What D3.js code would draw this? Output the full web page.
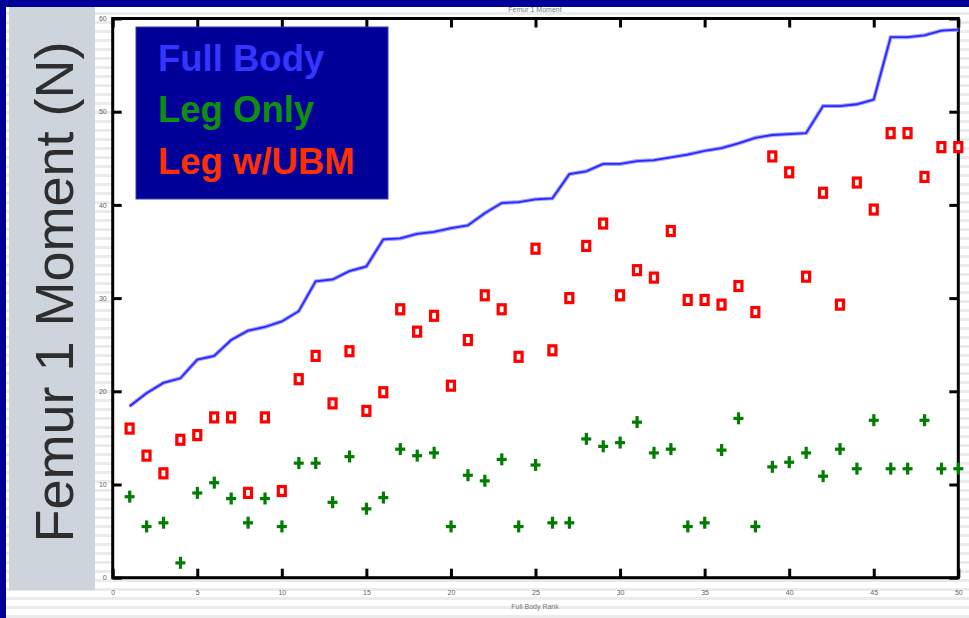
<!DOCTYPE html>
<html><head><meta charset="utf-8">
<script src="https://cdn.jsdelivr.net/npm/d3@7"></script>
<style>html,body{margin:0;padding:0;background:#fff;}svg{display:block;}</style>
</head><body>
<svg id="c" width="969" height="618"></svg>
<script>
const ranks = [1,2,3,4,5,6,7,8,9,10,11,12,13,14,15,16,17,18,19,20,21,22,23,24,25,26,27,28,29,30,31,32,33,34,35,36,37,38,39,40,41,42,43,44,45,46,47,48,49,50];
const fullBody = [18.4,19.8,20.9,21.4,23.4,23.8,25.5,26.5,26.9,27.5,28.6,31.8,32.0,32.9,33.4,36.3,36.4,36.9,37.1,37.5,37.8,39.1,40.2,40.3,40.6,40.7,43.3,43.6,44.4,44.4,44.7,44.8,45.1,45.4,45.8,46.1,46.6,47.2,47.5,47.6,47.7,50.6,50.6,50.8,51.3,58.0,58.0,58.2,58.7,58.8];
const legOnly = [8.7,5.5,5.9,1.6,9.1,10.2,8.5,5.9,8.5,5.5,12.3,12.3,8.1,13.0,7.4,8.6,13.8,13.1,13.4,5.5,11.0,10.4,12.7,5.5,12.1,5.9,5.9,14.9,14.1,14.5,16.7,13.4,13.8,5.5,5.9,13.7,17.1,5.5,11.9,12.4,13.4,10.9,13.8,11.7,16.9,11.7,11.7,16.9,11.7,11.7];
const legUBM = [16.0,13.1,11.2,14.8,15.3,17.2,17.2,9.1,17.2,9.3,21.3,23.8,18.7,24.3,17.9,19.9,28.8,26.4,28.1,20.6,25.5,30.3,28.8,23.7,35.3,24.4,30.0,35.6,38.0,30.3,33.0,32.2,37.2,29.8,29.8,29.3,31.3,28.5,45.2,43.5,32.3,41.3,29.3,42.4,39.5,47.7,47.7,43.0,46.2,46.2];
const xTicks = [0,5,10,15,20,25,30,35,40,45,50];
const yTicks = [0,10,20,30,40,50,60];
const seriesNames = ["Full Body","Leg Only","Leg w/UBM"];
const seriesColors = ["#3535ff","#0f8f0f","#ff3000"];
const yTitle = "Femur 1 Moment (N)";
const xTitle = "Full Body Rank";
const topTitle = "Femur 1 Moment";

const svg = d3.select("#c");
const W = 969, H = 618;

// faint scan stripes in the background
const stripes = svg.append("g");
stripes.selectAll("rect").data(d3.range(12, H, 9)).join("rect")
  .attr("x", 0).attr("y", d => d).attr("width", W).attr("height", 3).attr("fill", "#ebebeb");

// blue border
svg.append("rect").attr("x",0).attr("y",0).attr("width",W).attr("height",7).attr("fill","#000099");
svg.append("rect").attr("x",0).attr("y",0).attr("width",6).attr("height",H).attr("fill","#000099");

// grey side panel
svg.append("rect").attr("x",9).attr("y",7).attr("width",86).attr("height",583).attr("fill","#cdd4dc");
svg.append("text").attr("transform","translate(73,292) rotate(-90)")
  .attr("text-anchor","middle").attr("font-family","Liberation Sans, Arial, sans-serif")
  .attr("font-size",54).attr("fill","#2e2e2e").text(yTitle);

const x = d3.scaleLinear().domain([0,50]).range([112.7,958.3]);
const y = d3.scaleLinear().domain([0,60]).range([577.7,18.5]);

// plot area
svg.append("rect").attr("x",x(0)).attr("y",y(60)).attr("width",x(50)-x(0)).attr("height",y(0)-y(60)).attr("fill","#fff");

// axes with inward ticks
const fontTick = "Liberation Sans, Arial, sans-serif";
const axB = svg.append("g").attr("transform",`translate(0,${y(0)})`)
  .call(d3.axisBottom(x).tickValues(xTicks).tickSize(-9).tickPadding(12).tickFormat(d3.format("d")));
const axT = svg.append("g").attr("transform",`translate(0,${y(60)})`)
  .call(d3.axisTop(x).tickValues(xTicks).tickSize(-9).tickFormat(""));
const axL = svg.append("g").attr("transform",`translate(${x(0)},0)`)
  .call(d3.axisLeft(y).tickValues(yTicks).tickSize(-9).tickPadding(6).tickFormat(d3.format("d")));
const axR = svg.append("g").attr("transform",`translate(${x(50)},0)`)
  .call(d3.axisRight(y).tickValues(yTicks).tickSize(-9).tickFormat(""));
[axB,axT,axL,axR].forEach(a => {
  a.select(".domain").remove();
  a.selectAll(".tick line").attr("stroke","#000").attr("stroke-width",3);
  a.selectAll(".tick text").attr("font-family",fontTick).attr("font-size",7).attr("fill","#666");
});
svg.append("rect").attr("x",x(0)).attr("y",y(60)).attr("width",x(50)-x(0)).attr("height",y(0)-y(60))
  .attr("fill","none").attr("stroke","#000").attr("stroke-width",3);

// titles (tiny)
svg.append("text").attr("x",535).attr("y",12).attr("text-anchor","middle").attr("font-family",fontTick)
  .attr("font-size",7).attr("fill","#777").text(topTitle);
svg.append("text").attr("x",535).attr("y",609).attr("text-anchor","middle").attr("font-family",fontTick)
  .attr("font-size",7).attr("fill","#777").text(xTitle);

// full body line
const line = d3.line().x((d,i) => x(ranks[i])).y(d => y(d));
svg.append("path").datum(fullBody).attr("d",line).attr("fill","none")
  .attr("stroke","#a0a0ff").attr("stroke-width",4);
svg.append("path").datum(fullBody).attr("d",line).attr("fill","none")
  .attr("stroke","#2828ff").attr("stroke-width",1.8);

// Leg w/UBM squares
svg.append("g").selectAll("rect").data(legUBM).join("rect")
  .attr("x",(d,i) => x(ranks[i]) - 3.5).attr("y", d => y(d) - 4.5)
  .attr("width",7).attr("height",9).attr("fill","#fff")
  .attr("stroke","#ff0000").attr("stroke-width",3.2);

// Leg only pluses
const plus = svg.append("g").selectAll("g").data(legOnly).join("g")
  .attr("transform",(d,i) => `translate(${x(ranks[i])},${y(d)})`);
plus.append("rect").attr("x",-5).attr("y",-1.5).attr("width",10).attr("height",3.2).attr("fill","#007c00");
plus.append("rect").attr("x",-1.5).attr("y",-6).attr("width",3.2).attr("height",12).attr("fill","#007c00");

// legend
const lg = svg.append("g");
lg.append("rect").attr("x",136).attr("y",27).attr("width",252).attr("height",172)
  .attr("fill","#000099").attr("stroke","#3a3ab0").attr("stroke-width",1);
const lgY = [71,122,174];
lg.selectAll("text").data(seriesNames).join("text")
  .attr("x",158).attr("y",(d,i) => lgY[i])
  .attr("font-family","Liberation Sans, Arial, sans-serif").attr("font-weight","bold")
  .attr("font-size",36.5).attr("fill",(d,i) => seriesColors[i]).text(d => d);
</script>
</body></html>
